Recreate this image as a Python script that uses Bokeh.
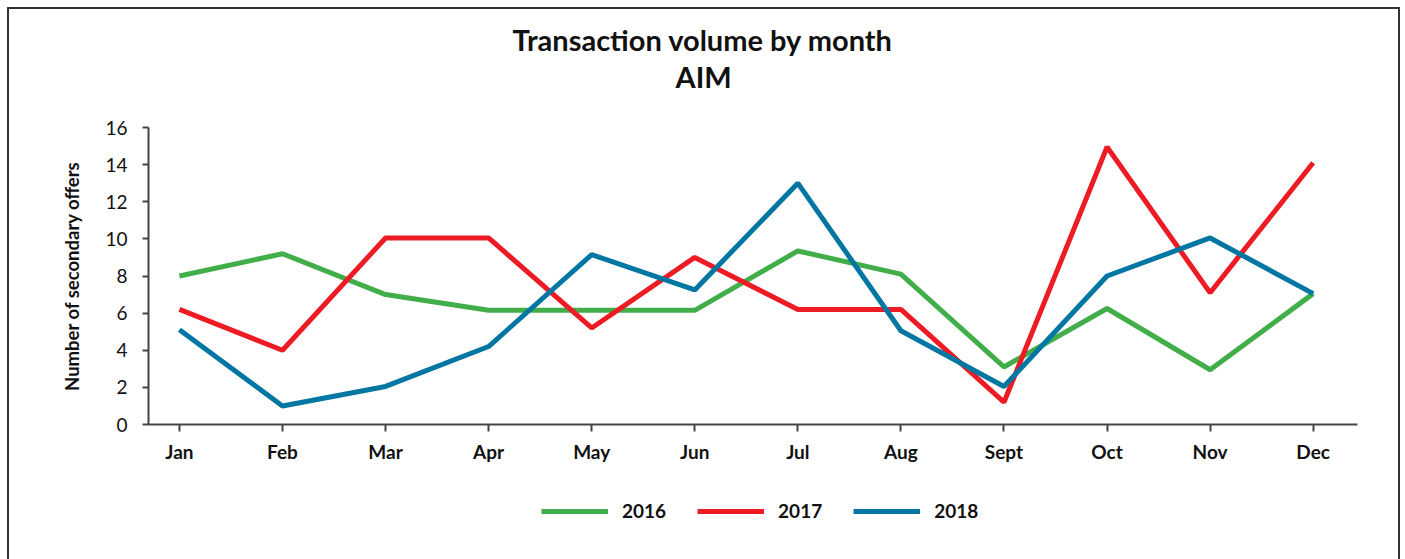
from bokeh.plotting import figure
from bokeh.layouts import column
from bokeh.models import FixedTicker, Legend, LegendItem, Range1d, Title
from bokeh.embed import file_html
from bokeh.resources import INLINE

months = ["Jan", "Feb", "Mar", "Apr", "May", "Jun", "Jul", "Aug", "Sept", "Oct", "Nov", "Dec"]
y2016 = [8.0, 9.2, 7.0, 6.15, 6.15, 6.15, 9.35, 8.1, 3.1, 6.25, 2.95, 7.05]
y2017 = [6.2, 4.0, 10.05, 10.05, 5.2, 9.0, 6.2, 6.2, 1.2, 14.95, 7.1, 14.1]
y2018 = [5.1, 1.0, 2.05, 4.2, 9.15, 7.25, 13.0, 5.05, 2.05, 8.0, 10.05, 7.05]
series_names = ["2016", "2017", "2018"]
colors = ["#41ae4a", "#ed1c24", "#0076a3"]
y_ticks = [0, 2, 4, 6, 8, 10, 12, 14, 16]

FONT = "Lato"
AX = "#444444"

xs = list(range(len(months)))
series = [y2016, y2017, y2018]

p = figure(frame_width=1209, frame_height=297, output_backend="svg", toolbar_location=None,
           x_range=Range1d(-0.30, 11.43), y_range=Range1d(0, 16),
           min_border_left=139, min_border_right=41, min_border_top=118, min_border_bottom=60)
p.outline_line_color = None
p.xgrid.visible = False
p.ygrid.visible = False
p.background_fill_color = "white"
p.border_fill_color = "white"

for name, ys, c in zip(series_names, series, colors):
    p.line(xs, ys, line_color=c, line_width=5)

# x axis
xa = p.xaxis[0]
xa.ticker = FixedTicker(ticks=xs)
xa.major_label_overrides = {i: m for i, m in enumerate(months)}
xa.axis_line_color = AX
xa.axis_line_width = 2
xa.major_tick_line_color = AX
xa.major_tick_line_width = 2
xa.major_tick_in = 0
xa.major_tick_out = 7
xa.minor_tick_line_color = None
xa.major_label_text_font = FONT
xa.major_label_text_font_style = "bold"
xa.major_label_text_font_size = "19px"
xa.major_label_text_color = "#111111"
xa.major_label_standoff = 8

# y axis
ya = p.yaxis[0]
ya.ticker = FixedTicker(ticks=y_ticks)
ya.axis_line_color = AX
ya.axis_line_width = 2
ya.major_tick_line_color = AX
ya.major_tick_line_width = 2
ya.major_tick_in = 0
ya.major_tick_out = 6
ya.minor_tick_line_color = None
ya.major_label_text_font = FONT
ya.major_label_text_font_size = "19px"
ya.major_label_text_color = "#111111"
ya.major_label_standoff = 15
ya.axis_label = "Number of secondary offers"
ya.axis_label_text_font = FONT
ya.axis_label_text_font_style = "bold"
ya.axis_label_text_font_size = "18.5px"
ya.axis_label_text_color = "#111111"
ya.axis_label_standoff = 19

# titles: the first one added sits nearest the frame (a blank spacer first)
p.add_layout(Title(text=" ", standoff=21, text_font_size="10px"), "above")
p.add_layout(Title(text="AIM", align="left", offset=527, standoff=0,
                   text_font=FONT, text_font_style="bold", text_font_size="29px",
                   text_color="#111111"), "above")
p.add_layout(Title(text="Transaction volume by month", align="left", offset=364, standoff=0,
                   text_font=FONT, text_font_style="bold", text_font_size="29px",
                   text_color="#111111"), "above")

# legend strip below the chart (its series lie outside this strip's ranges,
# so only the legend entries show)
p2 = figure(frame_width=1389, frame_height=75, output_backend="svg", toolbar_location=None,
            x_axis_type=None, y_axis_type=None, min_border=0,
            x_range=Range1d(100, 101), y_range=Range1d(100, 101))
p2.outline_line_color = None
p2.xgrid.visible = False
p2.ygrid.visible = False
p2.border_fill_color = "white"
items = []
for name, ys, c in zip(series_names, series, colors):
    r = p2.line(xs, ys, line_color=c, line_width=5)
    items.append(LegendItem(label=name, renderers=[r]))
legend = Legend(items=items, orientation="horizontal", location=(532, 37),
                padding=0, margin=0, spacing=31, label_standoff=14,
                glyph_width=67, glyph_height=22,
                label_text_font=FONT, label_text_font_style="bold",
                label_text_font_size="19px", label_text_color="#111111",
                border_line_color=None, background_fill_alpha=0)
p2.add_layout(legend, "center")

layout = column(p, p2, spacing=0,
                styles={"border-top": "2px solid #333333", "border-left": "2px solid #333333",
                        "border-right": "2px solid #333333", "margin-left": "7px",
                        "margin-top": "7px", "background-color": "white"})

open("out.html", "w").write(file_html(layout, INLINE))
